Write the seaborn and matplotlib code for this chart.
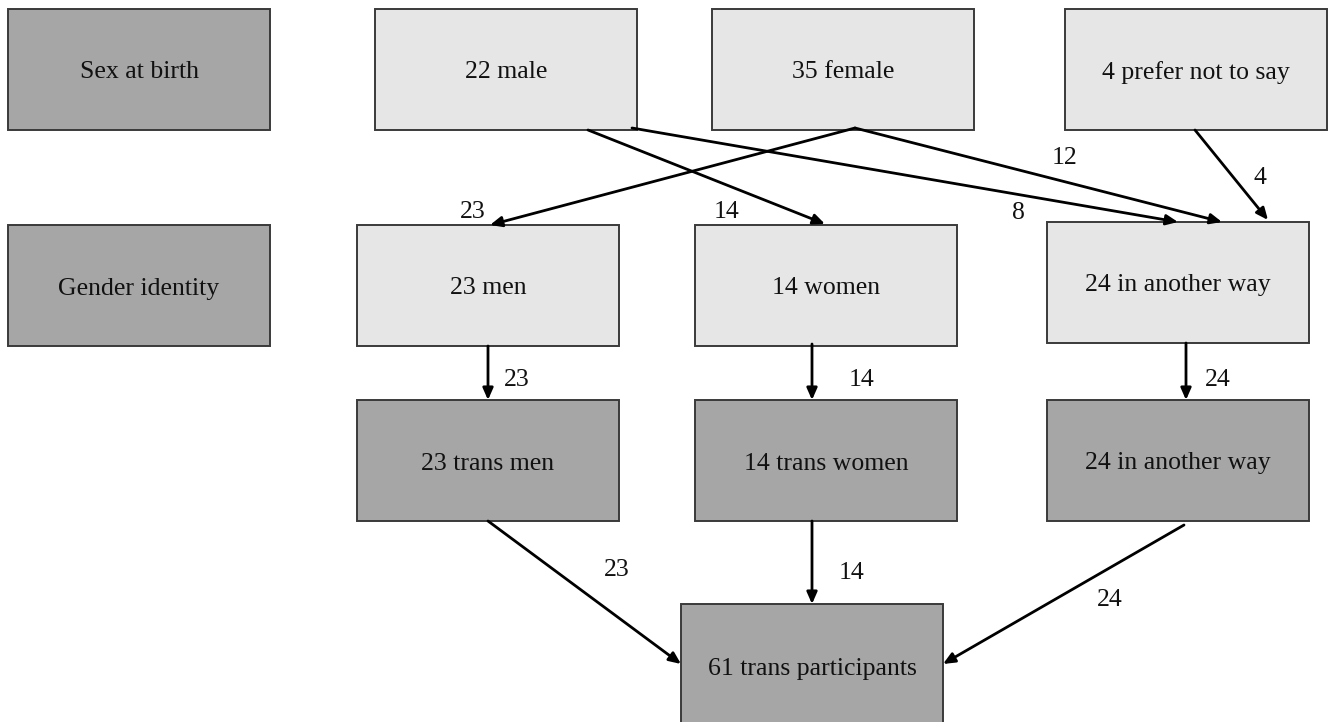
import seaborn as sns
import matplotlib.pyplot as plt
from matplotlib.patches import Rectangle

# counts shown in the flow chart
sex_labels = ['male', 'female', 'prefer not to say']
sex_counts = [22, 35, 4]
gender_labels = ['men', 'women', 'in another way']
gender_counts = [23, 14, 24]
trans_labels = ['trans men', 'trans women', 'in another way']
trans_counts = [23, 14, 24]
total_label = 'trans participants'
total_count = 61
# flows from sex at birth to gender identity: (from, to, count)
sex_to_gender = [(0, 1, 14), (0, 2, 8), (1, 0, 23), (1, 2, 12), (2, 2, 4)]

sns.set_theme(style="white")
plt.rcParams['font.family'] = ['Liberation Serif', 'DejaVu Serif']

fig = plt.figure(figsize=(13.3, 7.22), dpi=100)
ax = fig.add_axes([0, 0, 1, 1])
ax.set_xlim(0, 1330)
ax.set_ylim(722, 0)
ax.axis('off')

DARK = '#a6a6a6'
LIGHT = '#e6e6e6'
W, H = 262, 121
FS = 18.5


def box(x, y, text, color, h=H):
    ax.add_patch(Rectangle((x, y), W, h, facecolor=color, edgecolor='#3a3a3a', lw=1.4))
    ax.text(x + W / 2, y + h / 2 + 3, text, ha='center', va='center', fontsize=FS, color='#111111')


def arrow(x0, y0, x1, y1):
    ax.annotate('', xy=(x1, y1), xytext=(x0, y0),
                arrowprops=dict(arrowstyle='-|>,head_length=0.5,head_width=0.22', color='black', lw=2,
                                mutation_scale=14, shrinkA=0, shrinkB=0))


def num(x, y, n):
    ax.text(x, y, str(n), ha='center', va='center', fontsize=FS, color='#111111')


# row headers
box(8, 9, 'Sex at birth', DARK)
box(8, 225, 'Gender identity', DARK)

# sex at birth row
sex_x = [375, 712, 1065]
for x, n, lab in zip(sex_x, sex_counts, sex_labels):
    box(x, 9, f'{n} {lab}', LIGHT)

# gender identity row
gen_x = [357, 695, 1047]
gen_y = [225, 225, 222]
for x, y, n, lab in zip(gen_x, gen_y, gender_counts, gender_labels):
    box(x, y, f'{n} {lab}', LIGHT)

# trans row
for x, n, lab in zip(gen_x, trans_counts, trans_labels):
    box(x, 400, f'{n} {lab}', DARK)

# total
box(681, 604, f'{total_count} {total_label}', DARK, h=125)

# sex -> gender arrows
starts = {(0, 1): (588, 130), (0, 2): (632, 128), (1, 0): (855, 128),
          (1, 2): (855, 128), (2, 2): (1195, 130)}
ends = {(0, 1): (825, 224), (0, 2): (1178, 222), (1, 0): (490, 225),
        (1, 2): (1222, 222), (2, 2): (1268, 220)}
label_pos = {(0, 1): (727, 212), (0, 2): (1018, 213), (1, 0): (473, 212),
             (1, 2): (1065, 158), (2, 2): (1260, 178)}
for s, g, n in sex_to_gender:
    x0, y0 = starts[(s, g)]
    x1, y1 = ends[(s, g)]
    arrow(x0, y0, x1, y1)
    num(*label_pos[(s, g)], n)

# gender -> trans arrows
gx = [488, 812, 1186]
gy0 = [346, 344, 343]
glab = [517, 862, 1218]
for x, y0, lx, n in zip(gx, gy0, glab, gender_counts):
    arrow(x, y0, x, 400)
    num(lx, 380, n)

# trans -> total arrows
tstart = [(488, 521), (812, 521), (1184, 525)]
tend = [(681, 664), (812, 604), (943, 664)]
tlab = [(617, 570), (852, 573), (1110, 600)]
for (x0, y0), (x1, y1), (lx, ly), n in zip(tstart, tend, tlab, trans_counts):
    arrow(x0, y0, x1, y1)
    num(lx, ly, n)

fig.savefig('out.png', dpi=100)
